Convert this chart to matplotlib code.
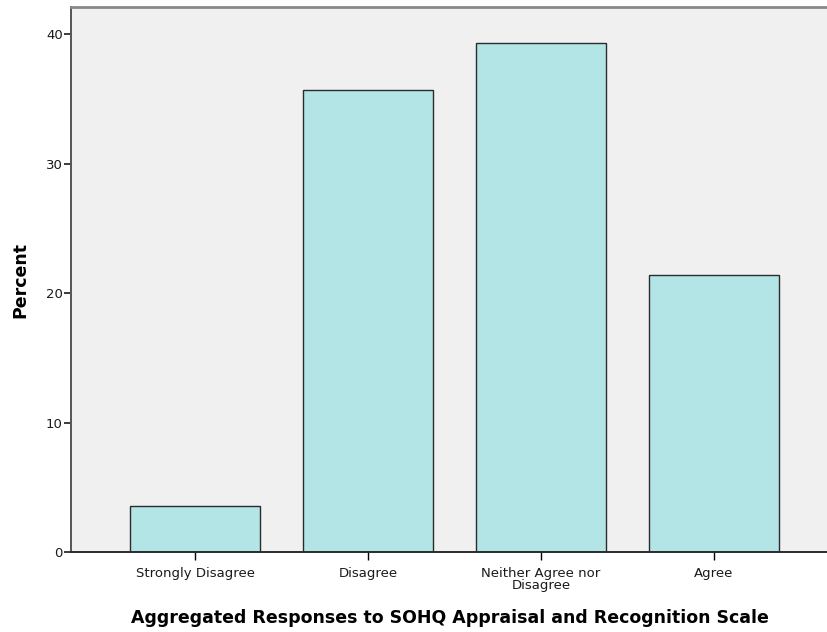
import matplotlib
matplotlib.use("Agg")
import matplotlib.pyplot as plt

# response shares (N = 28)
categories = ["Strongly Disagree", "Disagree", "Neither Agree nor\nDisagree", "Agree"]
percent = [3.57, 35.71, 39.29, 21.43]
yticks = [0, 10, 20, 30, 40]

plt.rcParams["font.family"] = ["DejaVu Sans"]

fig = plt.figure(figsize=(8.28, 6.32), dpi=100)
ax = fig.add_axes([71 / 828, 1 - 552 / 632, 1 - 71 / 828 + 0.002, (552 - 7) / 632])
ax.set_facecolor("#f0f0f0")

x = range(len(categories))
ax.bar(x, percent, width=0.754, color="#b3e5e6", edgecolor="#2b2b2b", linewidth=1.0, zorder=2)

ax.set_xlim(-0.719, 3.67)
ax.set_ylim(0, 42.1)
ax.set_yticks(yticks)
ax.set_xticks(list(x))
ax.set_xticklabels(categories, fontsize=9.5, linespacing=0.9, color="#1a1a1a")
ax.tick_params(axis="y", labelsize=9.5, colors="#1a1a1a", length=5, width=1.2, pad=1)
ax.tick_params(axis="x", length=6, width=1.0, pad=5)

for s in ("left", "bottom"):
    ax.spines[s].set_color("#555555")
    ax.spines[s].set_linewidth(1.4)
ax.spines["bottom"].set_color("#2b2b2b")
ax.spines["top"].set_color("#888888")
ax.spines["top"].set_linewidth(2)
ax.spines["right"].set_visible(False)

ax.set_ylabel("Percent", fontsize=12.5, fontweight="bold", labelpad=12)
ax.set_xlabel("Aggregated Responses to SOHQ Appraisal and Recognition Scale",
              fontsize=12.5, fontweight="bold", labelpad=12)

fig.savefig("out.png", dpi=100)
